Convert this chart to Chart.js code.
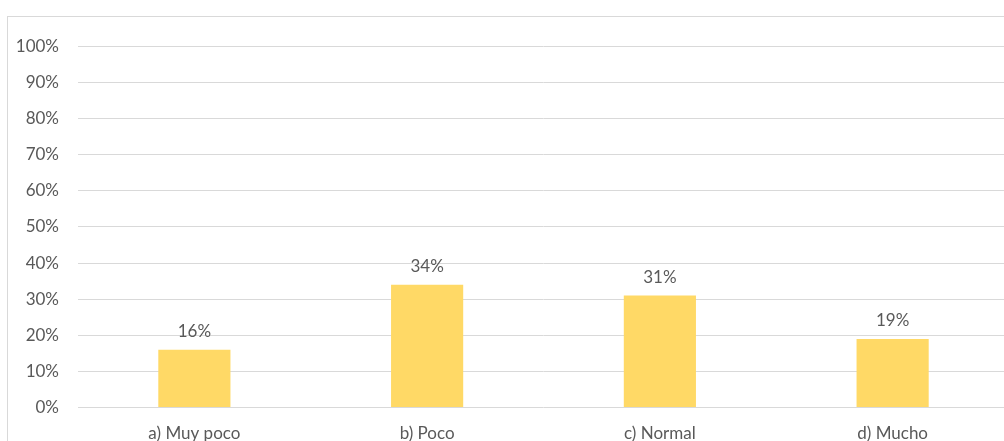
<!DOCTYPE html>
<html>
<head>
<meta charset="utf-8">
<script src="https://cdn.jsdelivr.net/npm/chart.js@4"></script>
<style>
  html, body { margin: 0; padding: 0; background: #fff; overflow: hidden; }
  #frame {
    position: absolute; left: 7px; top: 16px;
    width: 1010px; height: 460px;
    border: 1px solid #d9d9d9; box-sizing: border-box;
  }
</style>
</head>
<body>
<div id="frame"><canvas id="chart"></canvas></div>
<script>
const categories = ['a) Muy poco', 'b) Poco', 'c) Normal', 'd) Mucho'];
const percentages = [16, 34, 31, 19];
const yTicks = [0, 10, 20, 30, 40, 50, 60, 70, 80, 90, 100];

// Draw value labels above each bar
const barLabels = {
    id: 'barLabels',
    afterDatasetsDraw(chart) {
        const ctx = chart.ctx;
        const meta = chart.getDatasetMeta(0);
        ctx.save();
        ctx.font = '17px Lato';
        ctx.fillStyle = '#595959';
        ctx.textAlign = 'center';
        ctx.textBaseline = 'bottom';
        meta.data.forEach((bar, i) => {
            ctx.fillText(percentages[i] + '%', bar.x, bar.y - 10);
        });
        ctx.restore();
    }
};

new Chart(document.getElementById('chart').getContext('2d'), {
    type: 'bar',
    data: {
        labels: categories,
        datasets: [{
            data: percentages,
            backgroundColor: '#FFD966',
            barPercentage: 0.31,
            categoryPercentage: 1
        }]
    },
    options: {
        responsive: true,
        maintainAspectRatio: false,
        animation: false,
        layout: { padding: { top: 28, right: 7, bottom: 15, left: 0 } },
        plugins: { legend: { display: false }, tooltip: { enabled: false } },
        scales: {
            x: {
                grid: { display: false, drawTicks: false },
                border: { display: false },
                ticks: { color: '#595959', font: { family: 'Lato', size: 17 }, padding: 16 }
            },
            y: {
                min: 0,
                max: 100,
                afterFit(axis) { axis.width = 70; },
                afterBuildTicks(axis) { axis.ticks = yTicks.map(v => ({ value: v })); },
                grid: { color: '#d9d9d9', drawTicks: false },
                border: { display: false },
                ticks: {
                    color: '#595959',
                    font: { family: 'Lato', size: 17 },
                    padding: 19,
                    callback: v => v + '%'
                }
            }
        }
    },
    plugins: [barLabels]
});
</script>
</body>
</html>
